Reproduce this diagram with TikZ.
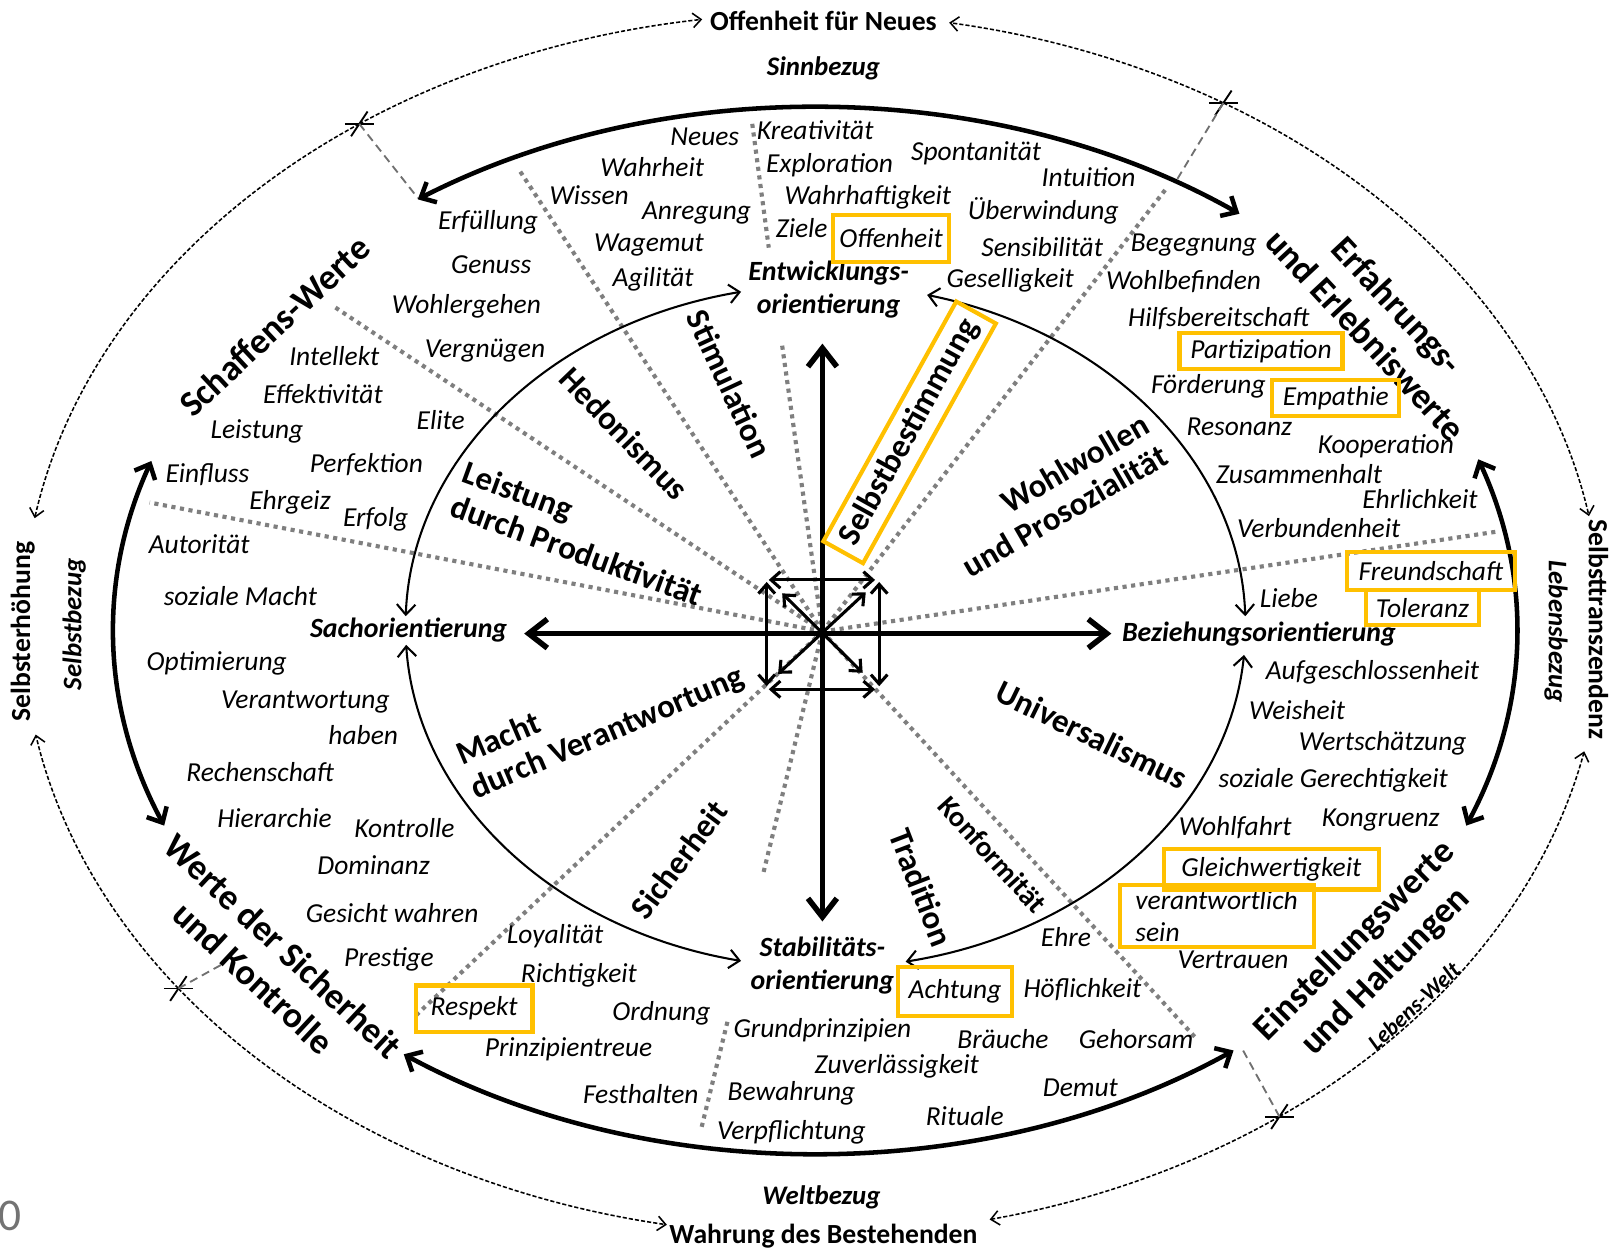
\documentclass[tikz,border=0pt]{standalone}
\usepackage{fontspec}
\setmainfont{Carlito}
\usetikzlibrary{arrows.meta,calc}
\definecolor{hlyellow}{HTML}{FFC000}
\definecolor{sepgray}{HTML}{7F7F7F}
\definecolor{dashgray}{HTML}{707070}
\begin{document}
\begin{tikzpicture}[x=0.5pt,y=-0.5pt,
  every node/.style={inner sep=0pt,outer sep=0pt},
  val/.style={font=\fontsize{13.3}{15.5}\selectfont\itshape},
  orient/.style={font=\fontsize{13.5}{16}\selectfont\bfseries\itshape,align=center},
  sector/.style={font=\fontsize{16}{17.5}\selectfont\bfseries},
  grouplab/.style={font=\fontsize{17.5}{21}\selectfont\bfseries,align=center},
  pole/.style={font=\fontsize{13.4}{15}\selectfont\bfseries},
  bezug/.style={font=\fontsize{13}{15}\selectfont\bfseries\itshape},
  hl/.style={draw=hlyellow,line width=2pt},
  sepline/.style={draw=sepgray,line width=2pt,dash pattern=on 2pt off 2.2pt},
  xline/.style={draw=dashgray,line width=0.9pt,dash pattern=on 4pt off 2.5pt},
  outerarc/.style={line width=0.75pt,dash pattern=on 2pt off 1pt,-{Straight Barb[length=4pt,width=7pt]}},
  thickarc/.style={line width=2.2pt,{Straight Barb[length=6pt,width=11pt]}-{Straight Barb[length=6pt,width=11pt]}},
  thinarc/.style={line width=1pt,{Straight Barb[length=5pt,width=9pt]}-{Straight Barb[length=5pt,width=9pt]}},
  axisarrow/.style={line width=2.7pt,{Straight Barb[length=9pt,width=14pt]}-{Straight Barb[length=9pt,width=14pt]}},
  sqarrow/.style={line width=1.5pt,{Straight Barb[length=4.5pt,width=8pt]}-{Straight Barb[length=4.5pt,width=8pt]}},
  xmark/.style={line width=0.9pt},
]
\useasboundingbox (0,0) rectangle (1568,1214);

% ---------- centres ----------
\coordinate (O) at (797,612);
\coordinate (Co) at (787,605);   % outer ellipse
\coordinate (Cm) at (790,611);   % middle ellipse
\coordinate (Ci) at (800,607);   % inner ellipse

% ---------- separator lines ----------
\coordinate (s1) at (502,163);
\coordinate (s2o) at (729,120); \coordinate (s2a) at (745,240); \coordinate (s2b) at (758,335);
\coordinate (s3) at (325,298);
\coordinate (s4) at (145,487);
\coordinate (s5) at (402,985);
\coordinate (s6o) at (680,1092); \coordinate (s6a) at (705,990); \coordinate (s6b) at (740,845);
\coordinate (s7) at (1158,1005);
\coordinate (s8) at (1452,515);
\coordinate (s9) at (1130,183);
\draw[sepline] (O) -- (s1);
\draw[sepline] (s2o) -- (s2a);
\draw[sepline] (s2b) -- (O);
\draw[sepline] (O) -- (s3);
\draw[sepline] (O) -- (s4);
\draw[sepline] (O) -- (s5);
\draw[sepline] (s6o) -- (s6a);
\draw[sepline] (s6b) -- (O);
\draw[sepline] (O) -- (s7);
\draw[sepline] (O) -- (s8);
\draw[sepline] (O) -- (s9);

% ---------- outer dashed ellipse ----------
\coordinate (xTL) at ($(Co)+(235:765 and 592)$);
\coordinate (xTR) at ($(Co)+(301.4:765 and 592)$);
\coordinate (xBL) at ($(Co)+(143.4:765 and 592)$);
\coordinate (xBR) at ($(Co)+(53.7:765 and 592)$);
\draw[outerarc] (xTL) arc[start angle=235,end angle=262,x radius=765,y radius=592];
\draw[outerarc] (xTR) arc[start angle=301.4,end angle=280,x radius=765,y radius=592];
\draw[outerarc] (xTL) arc[start angle=235,end angle=190,x radius=765,y radius=592];
\draw[outerarc] (xBL) arc[start angle=143.4,end angle=169.6,x radius=765,y radius=592];
\draw[outerarc] (xBL) arc[start angle=143.4,end angle=100.6,x radius=765,y radius=592];
\draw[outerarc] (xBR) arc[start angle=53.7,end angle=77,x radius=765,y radius=592];
\draw[outerarc] (xTR) arc[start angle=301.4,end angle=349.8,x radius=765,y radius=592];
\draw[outerarc] (xBR) arc[start angle=53.7,end angle=12,x radius=765,y radius=592];
\foreach \p in {xTL,xTR,xBL,xBR}{
  \draw[xmark] ($(\p)+(-14,0)$) -- ($(\p)+(14,0)$);
  \draw[xmark] ($(\p)+(8,-12)$) -- ($(\p)+(-8,12)$);
}
\coordinate (dTL) at (405,192);
\coordinate (dTR) at (1140,175);
\coordinate (dBL) at (218,933);
\coordinate (dBR) at (1203,1015);
\draw[xline] (xTL) -- (dTL);
\draw[xline] (xTR) -- (dTR);
\draw[xline] (xBL) -- (dBL);
\draw[xline] (xBR) -- (dBR);

% ---------- middle thick arcs ----------
\draw[thickarc] ($(Cm)+(235.5:680 and 507)$) arc[start angle=235.5,end angle=307.2,x radius=680,y radius=507];
\draw[thickarc] ($(Cm)+(198.9:680 and 507)$) arc[start angle=198.9,end angle=158.1,x radius=680,y radius=507];
\draw[thickarc] ($(Cm)+(-19.1:680 and 507)$) arc[start angle=-19.1,end angle=21.9,x radius=680,y radius=507];
\draw[thickarc] ($(Cm)+(125.9:680 and 507)$) arc[start angle=125.9,end angle=53.4,x radius=680,y radius=507];

% ---------- inner thin arcs ----------
\draw[thinarc] ($(Ci)+(181.7:407 and 331)$) arc[start angle=181.7,end angle=258.4,x radius=407,y radius=331];
\draw[thinarc] ($(Ci)+(284:407 and 331)$) arc[start angle=284,end angle=358.3,x radius=407,y radius=331];
\draw[thinarc] ($(Ci)+(176.9:407 and 331)$) arc[start angle=176.9,end angle=101.6,x radius=407,y radius=331];
\draw[thinarc] ($(Ci)+(4.8:407 and 331)$) arc[start angle=4.8,end angle=79,x radius=407,y radius=331];

% ---------- central cross ----------
\coordinate (aT) at (797,333);
\coordinate (aB) at (797,893);
\coordinate (aL) at (508,614);
\coordinate (aR) at (1077,614);
\draw[axisarrow] (aT) -- (aB);
\draw[axisarrow] (aL) -- (aR);
\coordinate (q1) at (743,562); \coordinate (q2) at (852,562);
\coordinate (q3) at (852,668); \coordinate (q4) at (743,668);
\draw[sqarrow] ($(q1)+(2,0)$) -- ($(q2)+(-4,0)$);
\draw[sqarrow] ($(q4)+(2,0)$) -- ($(q3)+(-4,0)$);
\draw[sqarrow] ($(q1)+(0,2)$) -- ($(q4)+(0,-3)$);
\draw[sqarrow] ($(q2)+(0,2)$) -- ($(q3)+(0,-3)$);
\coordinate (g1) at (758,575); \coordinate (g2) at (836,652);
\coordinate (g3) at (839,574); \coordinate (g4) at (754,653);
\draw[sqarrow] (g1) -- (g2);
\draw[sqarrow] (g3) -- (g4);

% ---------- pole & bezug labels ----------
\node[pole] (top) at (798,20) {Offenheit für Neues};
\node[pole] (bot) at (798,1198) {Wahrung des Bestehenden};
\node[pole,rotate=90] (leftpole) at (22,612) {Selbsterhöhung};
\node[pole,rotate=-90] (rightpole) at (1549,610) {Selbsttranszendenz};
\node[bezug] (sinn) at (798,66) {Sinnbezug};
\node[bezug] (welt) at (796,1160) {Weltbezug};
\node[bezug,rotate=90] (selbstbez) at (72,605) {Selbstbezug};
\node[bezug,rotate=-90] (lebensbez) at (1508,612) {Lebensbezug};
\node[font=\fontsize{22}{24}\selectfont,text=gray!90!black] (zero) at (10,1178) {0};

% ---------- orientations ----------
\node[orient] (entw) at (803,281) {Entwicklungs-\\orientierung};
\node[orient] (sach) at (396,611) {Sachorientierung};
\node[orient] (bez) at (1220,614) {Beziehungsorientierung};
\node[orient] (stab) at (797,936) {Stabilitäts-\\orientierung};

% ---------- sector labels ----------
\node[sector,rotate=-65] (stim) at (707,372) {Stimulation};
\node[sector,rotate=-46] (hed) at (605,420) {Hedonismus};
\node[sector,rotate=-20,align=left] (leist) at (565,517) {Leistung\\durch Produktivität};
\node[sector,rotate=23,align=left] (macht) at (582,695) {Macht\\durch Verantwortung};
\node[sector,rotate=53] (sich) at (658,833) {Sicherheit};
\node[sector,rotate=-69] (trad) at (893,860) {Tradition};
\node[sector,rotate=-48,font=\fontsize{14}{16}\selectfont\bfseries] (konf) at (962,828) {Konformität};
\node[sector,rotate=-26] (univ) at (1058,712) {Universalismus};
\node[sector,rotate=30,align=right] (wohl) at (1023,480) {Wohlwollen\\und Prosozialität};
\node[sector,rotate=61,hl,inner xsep=5pt,inner ysep=4pt] (selbstb) at (881.5,419) {Selbstbestimmung};

% ---------- group labels ----------
\node[grouplab,rotate=43] (schaff) at (266,316) {Schaffens-Werte};
\node[grouplab,rotate=-47] (erf) at (1339,310) {Erfahrungs-\\und Erlebniswerte};
\node[grouplab,rotate=-43] (werte) at (260,932) {Werte der Sicherheit\\und Kontrolle};
\node[grouplab,rotate=45] (einst) at (1328,927) {Einstellungswerte\\und Haltungen};
\node[rotate=43,font=\fontsize{11}{12}\selectfont\bfseries\itshape] (lw) at (1370,975) {Lebens-Welt};

% ---------- values ----------
\node[val] (n1) at (683,133) {Neues};
\node[val] (n2) at (632,162) {Wahrheit};
\node[val] (n3) at (571,189) {Wissen};
\node[val] (n4) at (675,206) {Anregung};
\node[val] (n5) at (473,215) {Erfüllung};
\node[val] (n6) at (629,237) {Wagemut};
\node[val] (n7) at (476,257) {Genuss};
\node[val] (n8) at (633,271) {Agilität};
\node[val] (n9) at (452,297) {Wohlergehen};
\node[val] (n10) at (324,345) {Intellekt};
\node[val] (n11) at (470,340) {Vergnügen};
\node[val] (n12) at (313,382) {Effektivität};
\node[val] (n13) at (249,418) {Leistung};
\node[val] (n14) at (427,407) {Elite};
\node[val] (n15) at (201,460) {Einfluss};
\node[val] (n16) at (355,450) {Perfektion};
\node[val] (n17) at (281,487) {Ehrgeiz};
\node[val] (n18) at (364,503) {Erfolg};
\node[val] (n19) at (193,527) {Autorität};
\node[val] (n20) at (233,578) {soziale Macht};
\node[val] (n21) at (210,643) {Optimierung};
\node[val] (n22) at (296,680) {Verantwortung};
\node[val] (n23) at (352,712) {haben};
\node[val] (n24) at (252,748) {Rechenschaft};
\node[val] (n25) at (266,793) {Hierarchie};
\node[val] (n26) at (392,802) {Kontrolle};
\node[val] (n27) at (362,838) {Dominanz};
\node[val] (n28) at (380,885) {Gesicht wahren};
\node[val] (n29) at (377,930) {Prestige};
\node[val] (n30) at (538,907) {Loyalität};
\node[val] (n31) at (561,945) {Richtigkeit};
\node[val,hl,minimum width=56.5pt,minimum height=22.5pt] (n32) at (459.5,977.5) {Respekt};
\node[val] (n33) at (641,982) {Ordnung};
\node[val] (n34) at (551,1017) {Prinzipientreue};
\node[val] (n35) at (621,1060) {Festhalten};
\node[val] (n36) at (767,1060) {Bewahrung};
\node[val] (n37) at (767,1097) {Verpflichtung};
\node[val] (n38) at (797,998) {Grundprinzipien};
\node[val] (n39) at (869,1033) {Zuverlässigkeit};
\node[val] (n40) at (972,1007) {Bräuche};
\node[val] (n41) at (1101,1007) {Gehorsam};
\node[val] (n42) at (1047,1054) {Demut};
\node[val] (n43) at (935,1082) {Rituale};
\node[val,hl,minimum width=55.5pt,minimum height=24pt] (n44) at (925.5,961) {Achtung};
\node[val] (n45) at (1049,959) {Höflichkeit};
\node[val] (n46) at (1033,908) {Ehre};
\node[val] (n47) at (1195,930) {Vertrauen};
\node[val,hl,align=left,minimum width=94pt,minimum height=30pt] (n48) at (1179,888) {verantwortlich\\sein};
\node[val,hl,minimum width=104pt,minimum height=19.5pt] (n49) at (1232,842.5) {Gleichwertigkeit};
\node[val] (n50) at (1197,802) {Wohlfahrt};
\node[val] (n51) at (1338,795) {Kongruenz};
\node[val] (n52) at (1292,756) {soziale Gerechtigkeit};
\node[val] (n53) at (1340,720) {Wertschätzung};
\node[val] (n54) at (1257,688) {Weisheit};
\node[val] (n55) at (1330,652) {Aufgeschlossenheit};
\node[val] (n56) at (1249,580) {Liebe};
\node[val,hl,minimum width=54.5pt,minimum height=17pt] (n57) at (1378.5,589) {Toleranz};
\node[val,hl,minimum width=81.5pt,minimum height=18.5pt] (n58) at (1386.5,553.5) {Freundschaft};
\node[val] (n59) at (1278,512) {Verbundenheit};
\node[val] (n60) at (1376,484) {Ehrlichkeit};
\node[val] (n61) at (1259,459) {Zusammenhalt};
\node[val] (n62) at (1343,432) {Kooperation};
\node[val] (n63) at (1201,414) {Resonanz};
\node[val] (n64) at (1171,374) {Förderung};
\node[val,hl,minimum width=61.5pt,minimum height=17.5pt] (n65) at (1294.5,385.5) {Empathie};
\node[val,hl,minimum width=79pt,minimum height=17.5pt] (n66) at (1222,340.5) {Partizipation};
\node[val] (n67) at (1181,309) {Hilfsbereitschaft};
\node[val] (n68) at (1147,273) {Wohlbefinden};
\node[val] (n69) at (979,272) {Geselligkeit};
\node[val] (n70) at (1157,237) {Begegnung};
\node[val] (n71) at (1010,239) {Sensibilität};
\node[val] (n72) at (1011,204) {Überwindung};
\node[val] (n73) at (1055,172) {Intuition};
\node[val] (n74) at (946,149) {Spontanität};
\node[val] (n75) at (790,126) {Kreativität};
\node[val] (n76) at (804,160) {Exploration};
\node[val] (n77) at (841,191) {Wahrhaftigkeit};
\node[val] (n78) at (777,221) {Ziele};
\node[val,hl,minimum width=56.5pt,minimum height=23pt] (n79) at (863.5,231) {Offenheit};
\end{tikzpicture}
\end{document}
